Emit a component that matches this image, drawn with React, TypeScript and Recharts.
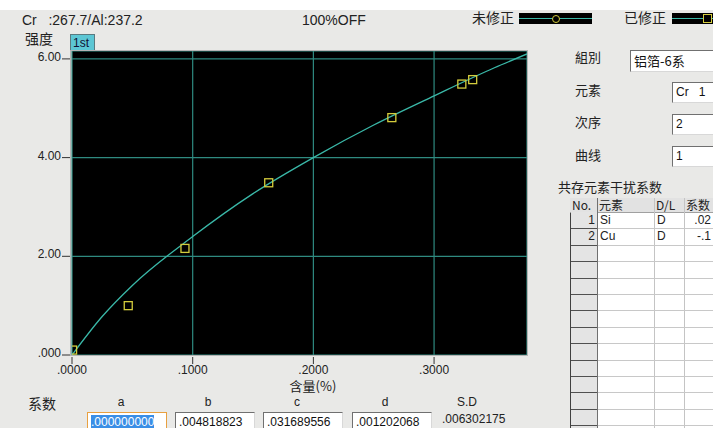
import React from "react";
import { ComposedChart, Line, Scatter, XAxis, YAxis, CartesianGrid } from "recharts";

// calibration curve (content %, intensity)
const curveContent = [0, 0.025, 0.05, 0.1, 0.15, 0.2, 0.25, 0.3, 0.35, 0.377];
const curveIntensity = [0, 0.78, 1.41, 2.4, 3.27, 4.0, 4.66, 5.25, 5.82, 6.1];

// standard samples (yellow squares)
const stdContent = [0.0005, 0.0466, 0.0936, 0.163, 0.265, 0.323, 0.332];
const stdIntensity = [0.1, 1.0, 2.16, 3.49, 4.81, 5.49, 5.58];

const xTicks = [0, 0.1, 0.2, 0.3];
const yTicks = [0, 2, 4, 6];

const coefNames = ["a", "b", "c", "d"];
const coefValues = [".000000000", ".004818823", ".031689556", ".001202068"];
const sdValue = ".006302175";

const interfNo = ["1", "2"];
const interfElem = ["Si", "Cu"];
const interfDL = ["D", "D"];
const interfCoef = [".02", "-.1"];

const curveData = curveContent.map((x, i) => ({ x, y: curveIntensity[i] }));
const stdData = stdContent.map((x, i) => ({ x, y: stdIntensity[i] }));

const FONT = "'Liberation Sans', 'Noto Sans CJK SC', sans-serif";
const CJK = "'Noto Sans CJK SC', 'Liberation Sans', sans-serif";

const XTick = (props: any) => {
  const { x, y, payload } = props;
  return (
    <g>
      <line x1={x} y1={y - 7} x2={x} y2={y} stroke="#333" />
      <text x={x} y={y + 10} textAnchor="middle" fontSize={12} fill="#222" fontFamily={FONT}>
        {payload.value.toFixed(4).replace(/^0/, "")}
      </text>
    </g>
  );
};

const YTick = (props: any) => {
  const { x, y, payload } = props;
  const v = payload.value === 0 ? ".000" : payload.value.toFixed(2);
  return (
    <g>
      <line x1={x} y1={y} x2={x + 8} y2={y} stroke="#333" />
      <text x={x - 1} y={y + 2} textAnchor="end" fontSize={12} fill="#222" fontFamily={FONT}>
        {v}
      </text>
    </g>
  );
};

const Square = (props: any) => {
  const { cx, cy } = props;
  return <rect x={cx - 4} y={cy - 4} width={8} height={8} fill="none" stroke="#d4cc3c" strokeWidth={1.3} />;
};

const abs = (left: number, top: number, extra: React.CSSProperties = {}): React.CSSProperties => ({
  position: "absolute",
  left,
  top,
  ...extra,
});

const inputBox = (left: number, top: number, width: number, height: number): React.CSSProperties => ({
  position: "absolute",
  left,
  top,
  width,
  height,
  boxSizing: "border-box",
  background: "#fff",
  borderTop: "1px solid #707070",
  borderLeft: "1px solid #707070",
  borderBottom: "1px solid #d8d8d8",
  borderRight: "1px solid #d8d8d8",
  fontSize: 12,
  fontFamily: FONT,
  color: "#111",
  paddingLeft: 3,
  lineHeight: `${height - 2}px`,
  overflow: "hidden",
  whiteSpace: "nowrap",
});

const rowTops = Array.from({ length: 14 }, (_, i) => 212 + i * 16.4);
const colX = [570, 597, 654, 684, 713];

export default function App() {
  return (
    <div
      style={{
        position: "relative",
        width: 713,
        height: 428,
        overflow: "hidden",
        background: "linear-gradient(#ffffff 0px, #ffffff 10px, #e9e9e7 10px)",
        fontFamily: FONT,
        color: "#222",
      }}
    >
      <style>{`body{margin:0}`}</style>

      {/* header */}
      <div style={abs(22, 12, { fontSize: 14 })}>Cr&nbsp;&nbsp;&nbsp;:267.7/Al:237.2</div>
      <div style={abs(302, 12, { fontSize: 14 })}>100%OFF</div>
      <div style={abs(472, 7, { fontSize: 14, fontFamily: CJK })}>未修正</div>
      <div style={abs(519, 13, { width: 73, height: 11, background: "#000" })}>
        <div style={abs(0, 5, { width: 73, height: 1, background: "#3ab8a8" })} />
        <div style={abs(33, 2, { width: 6, height: 6, borderRadius: 4, border: "1px solid #d4cc3c", background: "#000" })} />
      </div>
      <div style={abs(624, 7, { fontSize: 14, fontFamily: CJK })}>已修正</div>
      <div style={abs(672, 13, { width: 45, height: 11, background: "#000" })}>
        <div style={abs(0, 5, { width: 45, height: 1, background: "#3ab8a8" })} />
        <div style={abs(31, 1, { width: 7, height: 7, border: "1px solid #d4cc3c", background: "#000" })} />
      </div>

      <div style={abs(25, 28, { fontSize: 14, fontFamily: CJK })}>强度</div>
      <div
        style={abs(70, 34, {
          width: 25,
          height: 16,
          boxSizing: "border-box",
          background: "#5cc6d4",
          border: "1px solid #5a7a80",
          borderBottom: "none",
          fontSize: 12,
          lineHeight: "16px",
          paddingLeft: 2,
          color: "#113",
        })}
      >
        1st
      </div>

      <div style={abs(0, 0)}>
        <ComposedChart width={713} height={428} margin={{ top: 51, right: 186, bottom: 43, left: 0 }}>
          <CartesianGrid fill="#000" stroke="#2f8a80" strokeWidth={1.2} />
          <XAxis
            dataKey="x"
            type="number"
            domain={[0, 0.377]}
            allowDataOverflow
            ticks={xTicks}
            axisLine={false}
            tickLine={false}
            tickSize={7}
            height={30}
            tick={<XTick />}
            interval={0}
          />
          <YAxis
            dataKey="y"
            type="number"
            domain={[0, 6.16]}
            allowDataOverflow
            ticks={yTicks}
            axisLine={false}
            tickLine={false}
            tickSize={8}
            width={72}
            tick={<YTick />}
            interval={0}
          />
          <Line
            data={curveData}
            dataKey="y"
            type="monotone"
            stroke="#3ab8a8"
            strokeWidth={1.3}
            dot={false}
            isAnimationActive={false}
          />
          <Scatter data={stdData} dataKey="y" shape={<Square />} isAnimationActive={false} />
        </ComposedChart>
      </div>

      {/* plot frame */}
      <div
        style={abs(70, 50, {
          width: 458,
          height: 306,
          boxSizing: "border-box",
          border: "1px solid #b4b4b4",
          pointerEvents: "none",
        })}
      />

      <div style={abs(313, 379, { fontSize: 13, lineHeight: "13px", fontFamily: CJK, transform: "translateX(-50%)", whiteSpace: "nowrap" })}>
        含量(%)
      </div>

      {/* coefficients */}
      <div style={abs(28, 393, { fontSize: 14, fontFamily: CJK })}>系数</div>
      {coefNames.map((n, i) => (
        <div key={n} style={abs([121, 208, 297, 385][i], 395, { fontSize: 12, transform: "translateX(-50%)" })}>
          {n}
        </div>
      ))}
      <div style={abs(467, 395, { fontSize: 12, transform: "translateX(-50%)" })}>S.D</div>
      {coefValues.map((v, i) => {
        const left = [87, 175, 263, 352][i];
        const style = inputBox(left, 412, 80, 20);
        if (i === 0) {
          style.border = "1px solid #e8a040";
          return (
            <div key={i} style={style}>
              <span style={{ background: "#3a8ee6", color: "#fff" }}>{v}</span>
            </div>
          );
        }
        return (
          <div key={i} style={style}>
            {v}
          </div>
        );
      })}
      <div style={abs(442, 412, { fontSize: 12 })}>{sdValue}</div>

      {/* right panel */}
      <div style={abs(575, 47, { fontSize: 13, fontFamily: CJK })}>組別</div>
      <div style={{ ...inputBox(630, 50, 90, 22), fontFamily: CJK, fontSize: 13 }}>铝箔-6系</div>
      <div style={abs(575, 80, { fontSize: 13, fontFamily: CJK })}>元素</div>
      <div style={inputBox(672, 82, 50, 21)}>Cr&nbsp;&nbsp;&nbsp;1</div>
      <div style={abs(575, 112, { fontSize: 13, fontFamily: CJK })}>次序</div>
      <div style={inputBox(672, 114, 50, 21)}>2</div>
      <div style={abs(575, 145, { fontSize: 13, fontFamily: CJK })}>曲线</div>
      <div style={inputBox(672, 146, 50, 21)}>1</div>
      <div style={abs(558, 177, { fontSize: 13, fontFamily: CJK })}>共存元素干扰系数</div>

      {/* interference table */}
      <div style={abs(570, 198, { width: 143, height: 230, background: "#fff", borderLeft: "1px solid #404040", borderTop: "1px solid #808080" })} />
      <div style={abs(570, 198, { width: 143, height: 14, background: "#e2e2e2", borderBottom: "1px solid #a0a0a0" })} />
      <div style={abs(571, 212, { width: 26, height: 216, background: "#e4e4e4" })} />
      {colX.slice(1, 4).map((x) => (
        <div key={x} style={abs(x, 198, { width: 1, height: 230, background: "#c4c4c4" })} />
      ))}
      <div style={abs(597, 198, { width: 1, height: 230, background: "#707070" })} />
      {rowTops.slice(1).map((t) => (
        <React.Fragment key={t}>
          <div style={abs(571, t, { width: 26, height: 1, background: "#505050" })} />
          <div style={abs(598, t, { width: 115, height: 1, background: "#c8c8c8" })} />
        </React.Fragment>
      ))}
      {["No.", "元素", "D/L", "系数"].map((h, i) => (
        <div key={h} style={abs(colX[i] + 2, 197, { fontSize: 12, fontFamily: CJK, lineHeight: "16px" })}>
          {h}
        </div>
      ))}
      {interfNo.map((n, i) => (
        <React.Fragment key={n}>
          <div style={abs(571, rowTops[i] + 1, { width: 24, textAlign: "right", fontSize: 12, lineHeight: "15px" })}>{n}</div>
          <div style={abs(600, rowTops[i] + 1, { fontSize: 12, lineHeight: "15px" })}>{interfElem[i]}</div>
          <div style={abs(657, rowTops[i] + 1, { fontSize: 12, lineHeight: "15px" })}>{interfDL[i]}</div>
          <div style={abs(684, rowTops[i] + 1, { width: 27, textAlign: "right", fontSize: 12, lineHeight: "15px" })}>
            {interfCoef[i]}
          </div>
        </React.Fragment>
      ))}
    </div>
  );
}
